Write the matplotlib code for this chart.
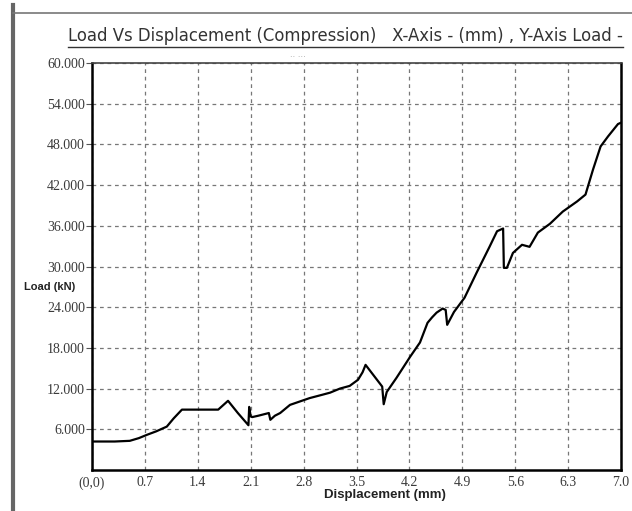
import matplotlib.pyplot as plt
from matplotlib.lines import Line2D
import numpy as np

# displacement (mm) and load (kN)
displacement = [0.0, 0.0, 0.30, 0.50, 0.62, 0.73, 0.85, 0.99, 1.08, 1.19, 1.45, 1.67,
                1.74, 1.80, 1.93, 2.07, 2.08, 2.10, 2.12, 2.20, 2.34, 2.36, 2.42,
                2.49, 2.62, 2.75, 2.88, 3.05, 3.15, 3.28, 3.41, 3.52, 3.58, 3.62,
                3.73, 3.84, 3.86, 3.90, 4.03, 4.21, 4.34, 4.44, 4.50, 4.56, 4.64,
                4.68, 4.70, 4.79, 4.93, 5.09, 5.26, 5.36, 5.44, 5.45, 5.49, 5.57,
                5.69, 5.79, 5.90, 6.06, 6.23, 6.42, 6.53, 6.63, 6.73, 6.83, 6.96, 7.0]
load = [0.0, 4.2, 4.2, 4.3, 4.7, 5.2, 5.7, 6.4, 7.6, 8.9, 8.9, 8.9,
        9.6, 10.2, 8.4, 6.6, 9.3, 7.9, 7.8, 8.0, 8.4, 7.4, 8.0,
        8.4, 9.6, 10.1, 10.6, 11.1, 11.4, 12.0, 12.4, 13.3, 14.4, 15.5,
        13.9, 12.3, 9.7, 11.5, 13.6, 16.7, 18.8, 21.7, 22.5, 23.2, 23.8,
        23.6, 21.4, 23.3, 25.4, 29.1, 32.9, 35.2, 35.6, 29.8, 29.8, 32.0,
        33.2, 32.9, 35.0, 36.3, 38.1, 39.6, 40.6, 44.3, 47.7, 49.2, 51.0, 51.2]

x_ticks = np.round(np.arange(0, 7.01, 0.7), 1)
x_tick_labels = ['(0,0)'] + [f'{v:.1f}' for v in x_ticks[1:]]
y_ticks = list(range(6, 61, 6))
y_tick_labels = [f'{v}.000' for v in y_ticks]

title = 'Load Vs Displacement (Compression)   X-Axis - (mm) , Y-Axis Load -'

W, H = 632, 511
fig = plt.figure(figsize=(W / 100, H / 100), dpi=100)
ax = fig.add_axes([92 / W, 1 - 470 / H, (621 - 92) / W, (470 - 63) / H])

ax.plot(displacement, load, color='black', linewidth=1.6, zorder=3)

ax.set_xlim(0, 7.0)
ax.set_ylim(0, 60)
ax.set_xticks(x_ticks)
ax.set_xticklabels(x_tick_labels)
ax.set_yticks(y_ticks)
ax.set_yticklabels(y_tick_labels)
ax.grid(True, color='#777777', linestyle=(0, (3, 3)), linewidth=0.9)

for lab in ax.get_xticklabels() + ax.get_yticklabels():
    lab.set_fontfamily('Liberation Serif')
    lab.set_fontsize(10)
    lab.set_color('#3a3a3a')
ax.tick_params(axis='x', length=0, pad=4.5)
ax.tick_params(axis='y', length=4, width=0.8, color='#555555', pad=1)

for side in ['left', 'bottom', 'right']:
    ax.spines[side].set_linewidth(1.8)
    ax.spines[side].set_color('black')
ax.spines['top'].set_linewidth(1.2)
ax.spines['top'].set_color('#444444')

fig.text(384.5 / W, 1 - 495 / H, 'Displacement (mm)', ha='center', va='center',
         fontsize=9.5, fontweight='bold', family='Liberation Sans', color='#222222')
fig.text(49.5 / W, 1 - 287 / H, 'Load (kN)', ha='center', va='center',
         fontsize=8, fontweight='bold', family='Liberation Sans', color='#222222')

t = fig.text(68 / W, 1 - 36 / H, title, ha='left', va='center',
             fontsize=11.9, family='DejaVu Sans', color='#333333')
fig.text(290 / W, 1 - 58 / H, '·· ···', ha='left', va='center', fontsize=6, color='#999999')

# underline for the title
fig.canvas.draw()
bb = t.get_window_extent().transformed(fig.transFigure.inverted())
fig.add_artist(Line2D([bb.x0, bb.x1], [bb.y0 - 0.004, bb.y0 - 0.004],
                      transform=fig.transFigure, color='#333333', linewidth=1.0))

# window frame
fig.add_artist(Line2D([13 / W, 13 / W], [0, 1 - 5 / H], transform=fig.transFigure,
                      color='#666666', linewidth=3))
fig.add_artist(Line2D([13 / W, 1], [1 - 13 / H, 1 - 13 / H], transform=fig.transFigure,
                      color='#777777', linewidth=1.2))

fig.savefig('out.png', dpi=100)
